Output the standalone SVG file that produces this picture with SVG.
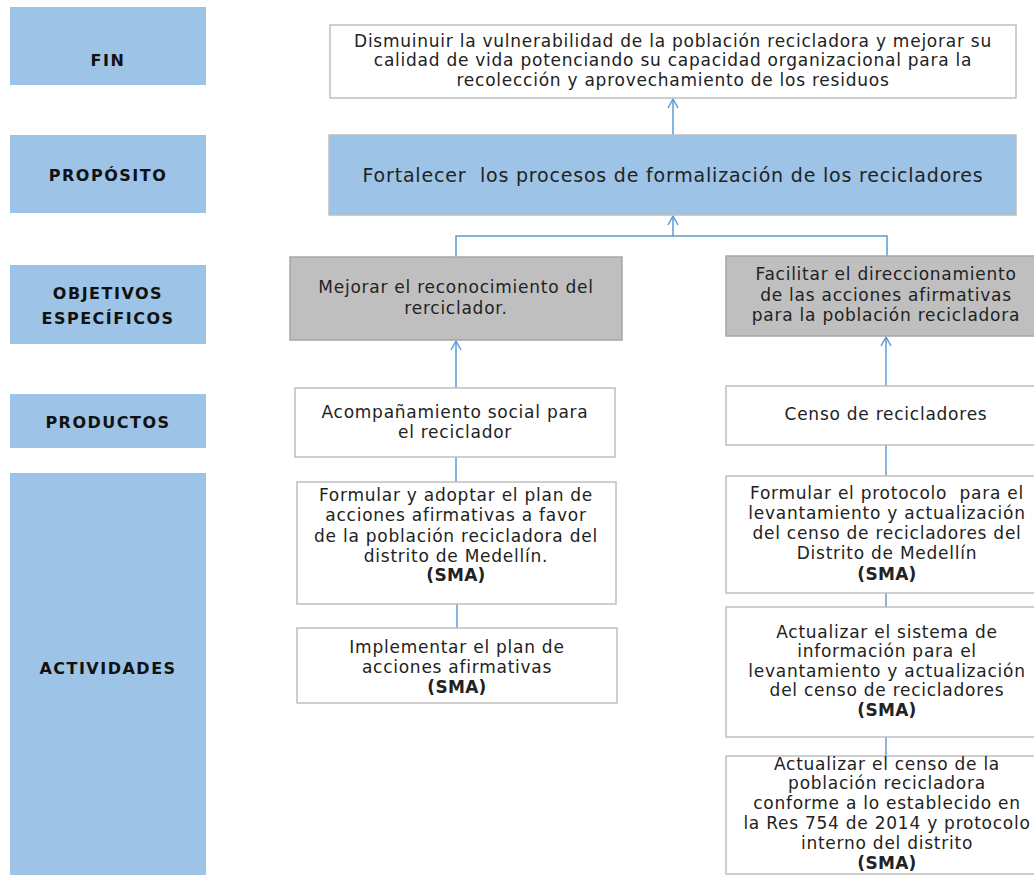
<svg xmlns="http://www.w3.org/2000/svg" width="1034" height="875" viewBox="0 0 1034 875">
<defs>
<style>
.lab{fill:#9DC3E6}
.labt{font-family:"DejaVu Sans",sans-serif;font-weight:bold;font-size:16px;letter-spacing:1.5px;fill:#111;text-anchor:middle}
.box{fill:#fff;stroke:#BFBFBF;stroke-width:1.5}
.blue{fill:#9DC3E6;stroke:#BFBFBF;stroke-width:1.5}
.gray{fill:#BFBFBF;stroke:#A6A6A6;stroke-width:1.5}
.t{font-family:"DejaVu Sans",sans-serif;font-size:17px;letter-spacing:0.75px;fill:#222;text-anchor:middle;white-space:pre}
.b{font-weight:bold;letter-spacing:0.3px}
.con{fill:none;stroke:#5B9BD5;stroke-width:1.5}
</style>
<marker id="arr" markerUnits="userSpaceOnUse" markerWidth="14" markerHeight="14" refX="10" refY="6" orient="auto">
<path d="M1,1 L10,6 L1,11" fill="none" stroke="#5B9BD5" stroke-width="1.5"/>
</marker>
</defs>
<rect width="1034" height="875" fill="#fff"/>

<g id="lab-fin"><rect class="lab" x="10" y="7" width="196" height="78"/><text class="labt" x="108" y="66">FIN</text></g>
<g id="lab-proposito"><rect class="lab" x="10" y="135" width="196" height="78"/><text class="labt" x="108" y="181">PROPÓSITO</text></g>
<g id="lab-objetivos"><rect class="lab" x="10" y="265" width="196" height="79"/><text class="labt" x="108" y="299">OBJETIVOS</text><text class="labt" x="108" y="324">ESPECÍFICOS</text></g>
<g id="lab-productos"><rect class="lab" x="10" y="394" width="196" height="54"/><text class="labt" x="108" y="428">PRODUCTOS</text></g>
<g id="lab-actividades"><rect class="lab" x="10" y="473" width="196" height="410"/><text class="labt" x="108" y="674">ACTIVIDADES</text></g>

<g id="connectors">
<line class="con" x1="673" y1="135" x2="673" y2="99" marker-end="url(#arr)"/>
<path class="con" d="M456,257 V236 H887 V256"/>
<line class="con" x1="673" y1="236" x2="673" y2="216" marker-end="url(#arr)"/>
<line class="con" x1="456" y1="388" x2="456" y2="341" marker-end="url(#arr)"/>
<line class="con" x1="886" y1="386" x2="886" y2="337" marker-end="url(#arr)"/>
<line class="con" x1="456" y1="482" x2="456" y2="457"/>
<line class="con" x1="457" y1="628" x2="457" y2="604"/>
<line class="con" x1="886" y1="476" x2="886" y2="445"/>
<line class="con" x1="886" y1="607" x2="886" y2="593"/>
<line class="con" x1="886" y1="756" x2="886" y2="737"/>
</g>

<g id="fin"><rect class="box" x="330" y="25" width="686" height="73"/>
<text class="t" x="673" y="47">Dismuinuir la vulnerabilidad de la población recicladora y mejorar su</text>
<text class="t" x="673" y="66">calidad de vida potenciando su capacidad organizacional para la</text>
<text class="t" x="673" y="86">recolección y aprovechamiento de los residuos</text></g>

<g id="proposito"><rect class="blue" x="329" y="135" width="687" height="80"/>
<text class="t" x="673" y="182" style="font-size:19px;letter-spacing:0.8px">Fortalecer  los procesos de formalización de los recicladores</text></g>

<g id="obj1"><rect class="gray" x="290" y="257" width="332" height="83"/>
<text class="t" x="456" y="293">Mejorar el reconocimiento del</text>
<text class="t" x="456" y="314">rerciclador.</text></g>

<g id="obj2"><rect class="gray" x="726" y="256" width="320" height="80"/>
<text class="t" x="886" y="280">Facilitar el direccionamiento</text>
<text class="t" x="886" y="301">de las acciones afirmativas</text>
<text class="t" x="886" y="321">para la población recicladora</text></g>

<g id="prod1"><rect class="box" x="295" y="388" width="320" height="69"/>
<text class="t" x="455" y="418">Acompañamiento social para</text>
<text class="t" x="455" y="438">el reciclador</text></g>

<g id="prod2"><rect class="box" x="726" y="386" width="320" height="59"/>
<text class="t" x="886" y="420">Censo de recicladores</text></g>

<g id="act1"><rect class="box" x="297" y="482" width="319" height="122"/>
<text class="t" x="456" y="501">Formular y adoptar el plan de</text>
<text class="t" x="456" y="521">acciones afirmativas a favor</text>
<text class="t" x="456" y="542">de la población recicladora del</text>
<text class="t" x="456" y="562">distrito de Medellín.</text>
<text class="t b" x="456" y="581">(SMA)</text></g>

<g id="act2"><rect class="box" x="297" y="628" width="320" height="75"/>
<text class="t" x="457" y="653">Implementar el plan de</text>
<text class="t" x="457" y="673">acciones afirmativas</text>
<text class="t b" x="457" y="693">(SMA)</text></g>

<g id="act3"><rect class="box" x="726" y="476" width="320" height="117"/>
<text class="t" x="887" y="499">Formular el protocolo  para el</text>
<text class="t" x="887" y="519">levantamiento y actualización</text>
<text class="t" x="887" y="539">del censo de recicladores del</text>
<text class="t" x="887" y="559">Distrito de Medellín</text>
<text class="t b" x="887" y="580">(SMA)</text></g>

<g id="act4"><rect class="box" x="726" y="607" width="320" height="130"/>
<text class="t" x="887" y="638">Actualizar el sistema de</text>
<text class="t" x="887" y="657">información para el</text>
<text class="t" x="887" y="677">levantamiento y actualización</text>
<text class="t" x="887" y="696">del censo de recicladores</text>
<text class="t b" x="887" y="716">(SMA)</text></g>

<g id="act5"><rect class="box" x="726" y="756" width="320" height="118"/>
<text class="t" x="887" y="770">Actualizar el censo de la</text>
<text class="t" x="887" y="789">población recicladora</text>
<text class="t" x="887" y="809">conforme a lo establecido en</text>
<text class="t" x="887" y="829">la Res 754 de 2014 y protocolo</text>
<text class="t" x="887" y="849">interno del distrito</text>
<text class="t b" x="887" y="869">(SMA)</text></g>
</svg>
